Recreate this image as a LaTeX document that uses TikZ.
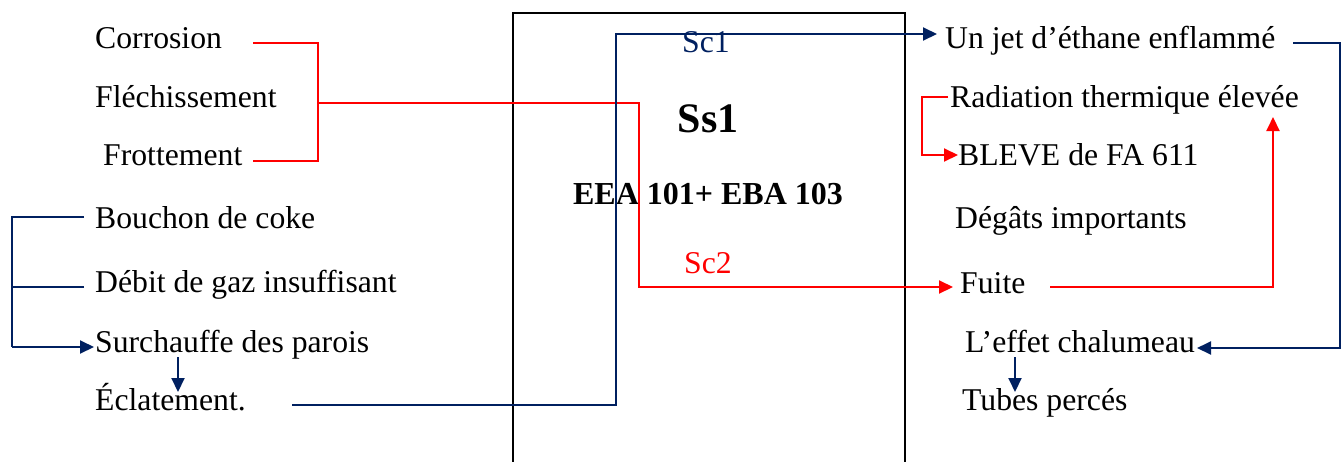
\documentclass[tikz,border=0pt]{standalone}
\usepackage{fontspec}
\setmainfont{Liberation Serif}
\usetikzlibrary{arrows.meta}
\definecolor{navy}{HTML}{002060}
\definecolor{rred}{HTML}{FF0000}
\begin{document}
\begin{tikzpicture}[x=1pt,y=-1pt,
  lbl/.style={anchor=base west,inner sep=0pt,font=\fontsize{31.7}{38}\selectfont},
  inbox/.style={anchor=base,inner sep=0pt,font=\fontsize{31.7}{38}\selectfont},
  bline/.style={draw=navy,line width=2pt},
  rline/.style={draw=rred,line width=2pt},
  tip/.style={-{Triangle[length=14pt,width=13pt]}},
]
\useasboundingbox (0,0) rectangle (1341,461);
\clip (0,0) rectangle (1341,461);
% central box
\node[draw,line width=2pt,anchor=north west,minimum width=392pt,minimum height=520pt,inner sep=0pt] (box) at (512,12) {};
\node[inbox,text=navy] (sc1) at (706,52) {Sc1};
\node[inbox,font=\bfseries\fontsize{42}{50}\selectfont] (ss1) at (708,132) {Ss1};
\node[inbox,font=\bfseries\fontsize{32}{38}\selectfont] (eea) at (708,204) {EEA 101+ EBA 103};
\node[inbox,text=rred] (sc2) at (708,273) {Sc2};
% left texts
\node[lbl] (corr) at (95,48) {Corrosion};
\node[lbl] (flech) at (95,107) {Fléchissement};
\node[lbl] (frott) at (103,165) {Frottement};
\node[lbl] (bouch) at (95,228) {Bouchon de coke};
\node[lbl] (debit) at (95,292) {Débit de gaz insuffisant};
\node[lbl] (surch) at (95,352) {Surchauffe des parois};
\node[lbl] (eclat) at (95,410) {Éclatement.};
% right texts
\node[lbl] (unjet) at (945,48) {Un jet d’éthane enflammé};
\node[lbl] (rad) at (950,107) {Radiation thermique élevée};
\node[lbl] (bleve) at (958,165) {BLEVE de FA 611};
\node[lbl] (degats) at (955,228) {Dégâts importants};
\node[lbl] (fuite) at (960,293) {Fuite};
\node[lbl] (effet) at (965,352) {L’effet chalumeau};
\node[lbl] (tubes) at (962,410) {Tubes percés};
% connector points
\coordinate (corrE) at (253,43);
\coordinate (frottE) at (253,161);
\coordinate (brk) at (318,103);
\coordinate (r1) at (639,287);
\coordinate (fuiteW) at (953,287);
\coordinate (bouchW) at (84,217);
\coordinate (debitW) at (84,287);
\coordinate (lx) at (12,347);
\coordinate (surchW) at (94,347);
\coordinate (surchS) at (178,357);
\coordinate (eclatN) at (178,392);
\coordinate (eclatE) at (292,405);
\coordinate (b1) at (616,34);
\coordinate (unjetW) at (937,34);
\coordinate (unjetE) at (1293,43);
\coordinate (rx) at (1340,348);
\coordinate (effetE) at (1197,348);
\coordinate (effetS) at (1015,357);
\coordinate (tubesN) at (1015,392);
\coordinate (radW) at (948,97);
\coordinate (rx2) at (922,155);
\coordinate (bleveW) at (958,155);
\coordinate (fuiteE) at (1050,287);
\coordinate (radS) at (1273,117);
% red connectors
\draw[rline] (corrE) -| (brk) |- (frottE);
\draw[rline,tip] (brk) -| (r1) -- (fuiteW);
\draw[rline,tip] (radW) -| (rx2) -- (bleveW);
\draw[rline,tip] (fuiteE) -| (radS);
% blue connectors
\draw[bline] (bouchW) -| (lx);
\draw[bline] (debitW) -- (debitW -| lx);
\draw[bline,tip] (lx) -- (surchW);
\draw[bline,tip] (surchS) -- (eclatN);
\draw[bline,tip] (eclatE) -| (b1) -- (unjetW);
\draw[bline,tip] (unjetE) -| (rx) -- (effetE);
\draw[bline,tip] (effetS) -- (tubesN);
\end{tikzpicture}
\end{document}
